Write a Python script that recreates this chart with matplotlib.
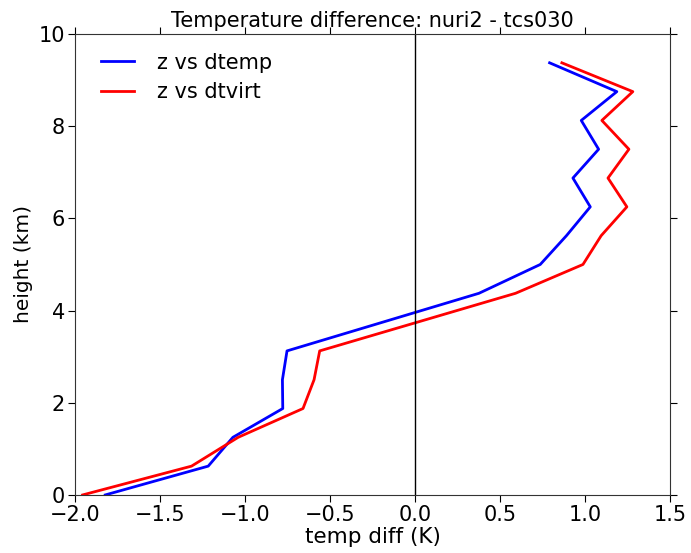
import matplotlib
matplotlib.use("Agg")
import matplotlib.pyplot as plt

z = [0.0, 0.625, 1.25, 1.875, 2.5, 3.125, 4.375, 5.0, 5.625, 6.25, 6.875, 7.5, 8.125, 8.75, 9.375]
dtemp = [-1.82, -1.215, -1.07, -0.777, -0.779, -0.752, 0.376, 0.736, 0.89, 1.03, 0.928, 1.079, 0.977, 1.186, 0.791]
dtvirt = [-1.953, -1.313, -1.039, -0.658, -0.593, -0.560, 0.591, 0.987, 1.094, 1.245, 1.134, 1.257, 1.098, 1.280, 0.863]

fig = plt.figure(figsize=(6.91, 5.53), dpi=100)
ax = fig.add_axes([0.108, 0.105, 0.862, 0.8335])
ax.plot(dtemp, z, color="blue", lw=2, label="z vs dtemp")
ax.plot(dtvirt, z, color="red", lw=2, label="z vs dtvirt")
ax.axvline(0, color="black", lw=1)
ax.set_xlim(-2.0, 1.5)
ax.set_ylim(0, 10)
ax.set_xticks([-2.0, -1.5, -1.0, -0.5, 0.0, 0.5, 1.0, 1.5])
ax.set_yticks([0, 2, 4, 6, 8, 10])
ax.tick_params(labelsize=15, top=True, right=True, direction="out", length=5, pad=2)
for s in ax.spines.values():
    s.set_color("#333333")
ax.set_xlabel("temp diff (K)", fontsize=15.5, labelpad=2)
ax.set_ylabel("height (km)", fontsize=14.5, labelpad=4)
ax.set_title("Temperature difference: nuri2 - tcs030", fontsize=15, pad=5)
ax.legend(loc="upper left", frameon=False, fontsize=15, handlelength=1.6,
          handletextpad=1.1, labelspacing=0.45, bbox_to_anchor=(0.012, 1.0))
fig.savefig("out.png", dpi=100)
